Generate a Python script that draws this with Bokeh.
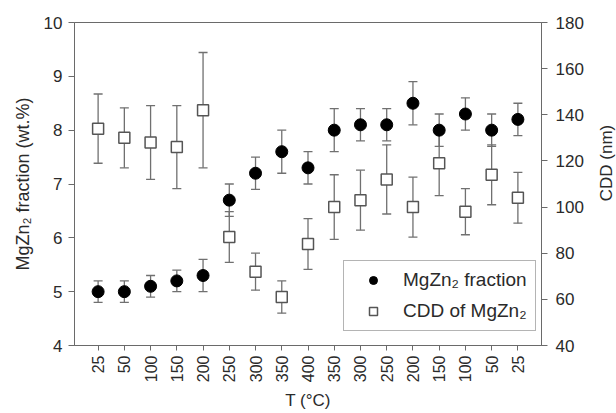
import math
from bokeh.plotting import figure
from bokeh.layouts import row
from bokeh.models import (ColumnDataSource, Range1d, LinearAxis, FixedTicker,
                          Whisker, TeeHead, Legend, LegendItem, Label)
from bokeh.embed import file_html
from bokeh.resources import INLINE

# ---- data ----
temps = ["25", "50", "100", "150", "200", "250", "300", "350", "400",
         "350", "300", "250", "200", "150", "100", "50", "25"]
frac = [5.0, 5.0, 5.1, 5.2, 5.3, 6.7, 7.2, 7.6, 7.3, 8.0, 8.1, 8.1, 8.5, 8.0, 8.3, 8.0, 8.2]
frac_err = [0.2, 0.2, 0.2, 0.2, 0.3, 0.3, 0.3, 0.4, 0.3, 0.4, 0.3, 0.3, 0.4, 0.3, 0.3, 0.3, 0.3]
cdd = [134, 130, 128, 126, 142, 87, 72, 61, 84, 100, 103, 112, 100, 119, 98, 114, 104]
cdd_err = [15, 13, 16, 18, 25, 11, 8, 7, 11, 14, 13, 15, 13, 14, 10, 13, 11]
left_ticks = [4, 5, 6, 7, 8, 9, 10]
right_ticks = [40, 60, 80, 100, 120, 140, 160, 180]

xs = list(range(len(temps)))
src = ColumnDataSource(dict(
    x=xs, frac=frac,
    f_up=[v + e for v, e in zip(frac, frac_err)],
    f_lo=[v - e for v, e in zip(frac, frac_err)],
    cdd=cdd,
    c_up=[v + e for v, e in zip(cdd, cdd_err)],
    c_lo=[v - e for v, e in zip(cdd, cdd_err)],
))

FONT = "Liberation Sans"
AX = "#6a6a6a"
TXT = "#2a2a2a"

p = figure(width=591, height=413, output_backend="svg", toolbar_location=None,
           x_range=Range1d(-0.9, 16.9), y_range=Range1d(4, 10),
           min_border_left=74, min_border_right=50, min_border_top=22, min_border_bottom=65)
p.background_fill_color = "white"
p.border_fill_color = "white"
p.outline_line_color = AX
p.outline_line_width = 1
p.xgrid.visible = False
p.ygrid.visible = False

p.extra_y_ranges = {"cdd": Range1d(40, 180)}

# axes styling
xa = p.xaxis[0]
xa.ticker = FixedTicker(ticks=xs)
xa.major_label_overrides = {i: t for i, t in enumerate(temps)}
xa.major_label_orientation = math.pi / 2
xa.axis_label = "T (°C)"
ya = p.yaxis[0]
ya.ticker = FixedTicker(ticks=left_ticks)
ya.axis_label = "MgZn₂ fraction (wt.%)"

ra = LinearAxis(y_range_name="cdd", ticker=FixedTicker(ticks=right_ticks))
p.add_layout(ra, "right")

for ax in (xa, ya, ra):
    ax.axis_line_color = AX
    ax.major_tick_line_color = AX
    ax.minor_tick_line_color = None
    ax.major_tick_in = 0
    ax.major_tick_out = 6
    ax.major_label_text_font = FONT
    ax.major_label_text_color = TXT
    ax.major_label_text_font_size = "17px"
    ax.axis_label_text_font = FONT
    ax.axis_label_text_color = TXT
    ax.axis_label_text_font_size = "17px"
    ax.axis_label_text_font_style = "normal"
xa.major_tick_out = 5
xa.major_label_text_font_size = "16px"
xa.major_label_standoff = 5
xa.axis_label_standoff = 6
ya.major_label_standoff = 6
ya.axis_label_standoff = 8
ya.axis_label_text_font_size = "18px"
ra.major_label_standoff = 8

# error bars
EB = "#707070"
w1 = Whisker(base="x", upper="f_up", lower="f_lo", source=src,
             line_color=EB, line_width=1.3,
             upper_head=TeeHead(size=9, line_color=EB, line_width=1.3),
             lower_head=TeeHead(size=9, line_color=EB, line_width=1.3))
w2 = Whisker(base="x", upper="c_up", lower="c_lo", source=src, y_range_name="cdd",
             line_color=EB, line_width=1.3,
             upper_head=TeeHead(size=9, line_color=EB, line_width=1.3),
             lower_head=TeeHead(size=9, line_color=EB, line_width=1.3))
p.add_layout(w1)
p.add_layout(w2)

r1 = p.scatter(x="x", y="frac", source=src, marker="circle", size=12,
               fill_color="black", line_color="black")
r2 = p.scatter(x="x", y="cdd", source=src, marker="square", size=11, y_range_name="cdd",
               fill_color="white", line_color="#555555", line_width=1.5)

legend = Legend(items=[LegendItem(label="MgZn₂ fraction", renderers=[r1]),
                       LegendItem(label="CDD of MgZn₂", renderers=[r2])],
                location=(269, 14), margin=0, padding=8, spacing=9,
                glyph_width=42, glyph_height=20, label_height=20, label_standoff=9,
                label_text_font=FONT, label_text_font_size="19px", label_text_color=TXT,
                border_line_color=AX, border_line_width=1, background_fill_color="white",
                background_fill_alpha=1)
p.add_layout(legend)

# narrow side figure that carries the right-axis title, reading bottom-to-top
p2 = figure(width=25, height=413, output_backend="svg", toolbar_location=None,
            x_range=Range1d(0, 1), y_range=Range1d(0, 1),
            x_axis_type=None, y_axis_type=None, min_border=0)
p2.outline_line_color = None
p2.background_fill_color = "white"
p2.border_fill_color = "white"
p2.xgrid.visible = False
p2.ygrid.visible = False
p2.add_layout(Label(x=0.6, y=0.565, angle=math.pi / 2,
                    text="CDD (nm)", text_align="center", text_baseline="middle",
                    text_font=FONT, text_font_size="17px", text_color=TXT))

open("out.html", "w").write(file_html(row(p, p2, spacing=0), INLINE))
